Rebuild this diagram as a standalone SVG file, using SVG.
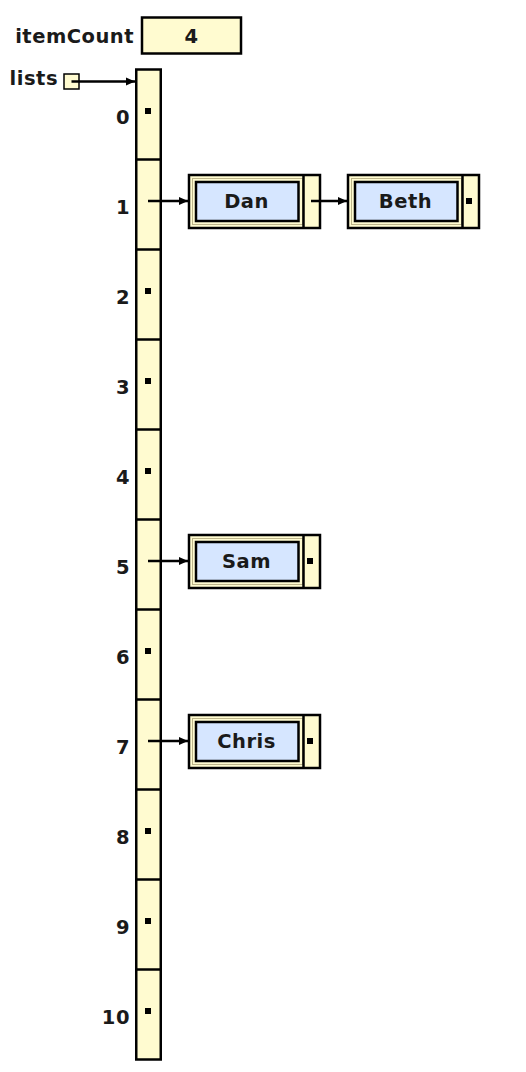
<svg xmlns="http://www.w3.org/2000/svg" width="526" height="1072" viewBox="0 0 526 1072">
<defs>
<style>
.t{font-family:"DejaVu Sans","Verdana",sans-serif;font-weight:bold;font-size:19.5px;letter-spacing:0.5px;fill:#1a1a1a}
.y{fill:#fffbd0;stroke:#000;stroke-width:2.5}
.b{fill:#d6e6ff;stroke:#000;stroke-width:2.5}
.g{fill:none;stroke:#bdb58a;stroke-width:1}
.l{stroke:#000;stroke-width:2.5}
.c{stroke:#000;stroke-width:2.5;fill:none}
.d{fill:#000}
</style>
<marker id="ah" viewBox="0 0 9 9" refX="9" refY="4.5" markerWidth="9" markerHeight="9" markerUnits="userSpaceOnUse" orient="auto">
<path d="M0,0.5 L9,4.5 L0,8.5 Z" fill="#000"/>
</marker>
<g id="node">
<rect class="y" x="0" y="0" width="131" height="53"/>
<rect class="g" x="3.5" y="3.5" width="110" height="46"/>
<rect class="b" x="7" y="7" width="102.5" height="39"/>
<line class="l" x1="114.5" y1="0" x2="114.5" y2="53"/>
</g>
</defs>

<g id="itemCount">
<text class="t" x="134" y="43" text-anchor="end">itemCount</text>
<rect class="y" x="142" y="17.5" width="99" height="36"/>
<text class="t" x="191.5" y="43" text-anchor="middle">4</text>
</g>

<g id="lists">
<text class="t" x="58" y="85" text-anchor="end">lists</text>
<rect x="64" y="74" width="15" height="15" fill="#fffbd0" stroke="#000" stroke-width="1.5"/>
</g>

<g id="array">
<rect class="y" x="136.25" y="69.5" width="24.5" height="990"/>
<g class="l">
<line x1="136" y1="159.5" x2="161" y2="159.5"/>
<line x1="136" y1="249.5" x2="161" y2="249.5"/>
<line x1="136" y1="339.5" x2="161" y2="339.5"/>
<line x1="136" y1="429.5" x2="161" y2="429.5"/>
<line x1="136" y1="519.5" x2="161" y2="519.5"/>
<line x1="136" y1="609.5" x2="161" y2="609.5"/>
<line x1="136" y1="699.5" x2="161" y2="699.5"/>
<line x1="136" y1="789.5" x2="161" y2="789.5"/>
<line x1="136" y1="879.5" x2="161" y2="879.5"/>
<line x1="136" y1="969.5" x2="161" y2="969.5"/>
</g>
<g class="d">
<rect x="145" y="108" width="6" height="6"/>
<rect x="145" y="288" width="6" height="6"/>
<rect x="145" y="378" width="6" height="6"/>
<rect x="145" y="468" width="6" height="6"/>
<rect x="145" y="648" width="6" height="6"/>
<rect x="145" y="828" width="6" height="6"/>
<rect x="145" y="918" width="6" height="6"/>
<rect x="145" y="1008" width="6" height="6"/>
</g>
<g class="t" text-anchor="end">
<text x="130" y="124">0</text>
<text x="130" y="214">1</text>
<text x="130" y="304">2</text>
<text x="130" y="394">3</text>
<text x="130" y="484">4</text>
<text x="130" y="574">5</text>
<text x="130" y="664">6</text>
<text x="130" y="754">7</text>
<text x="130" y="844">8</text>
<text x="130" y="934">9</text>
<text x="130" y="1024">10</text>
</g>
</g>

<g id="Dan">
<use href="#node" x="189" y="175"/>
<text class="t" x="246.5" y="208" text-anchor="middle">Dan</text>
</g>
<g id="Beth">
<use href="#node" x="348" y="175"/>
<text class="t" x="405.5" y="208" text-anchor="middle">Beth</text>
<rect class="d" x="466" y="198" width="6" height="6"/>
</g>
<g id="Sam">
<use href="#node" x="189" y="535"/>
<text class="t" x="246.5" y="568" text-anchor="middle">Sam</text>
<rect class="d" x="307" y="558" width="6" height="6"/>
</g>
<g id="Chris">
<use href="#node" x="189" y="715"/>
<text class="t" x="246.5" y="748" text-anchor="middle">Chris</text>
<rect class="d" x="307" y="738" width="6" height="6"/>
</g>

<g id="connectors" class="c">
<line x1="71.5" y1="81.5" x2="135" y2="81.5" marker-end="url(#ah)"/>
<line x1="148" y1="201" x2="188" y2="201" marker-end="url(#ah)"/>
<line x1="311" y1="201" x2="347" y2="201" marker-end="url(#ah)"/>
<line x1="148" y1="561" x2="188" y2="561" marker-end="url(#ah)"/>
<line x1="148" y1="741" x2="188" y2="741" marker-end="url(#ah)"/>
</g>
</svg>
